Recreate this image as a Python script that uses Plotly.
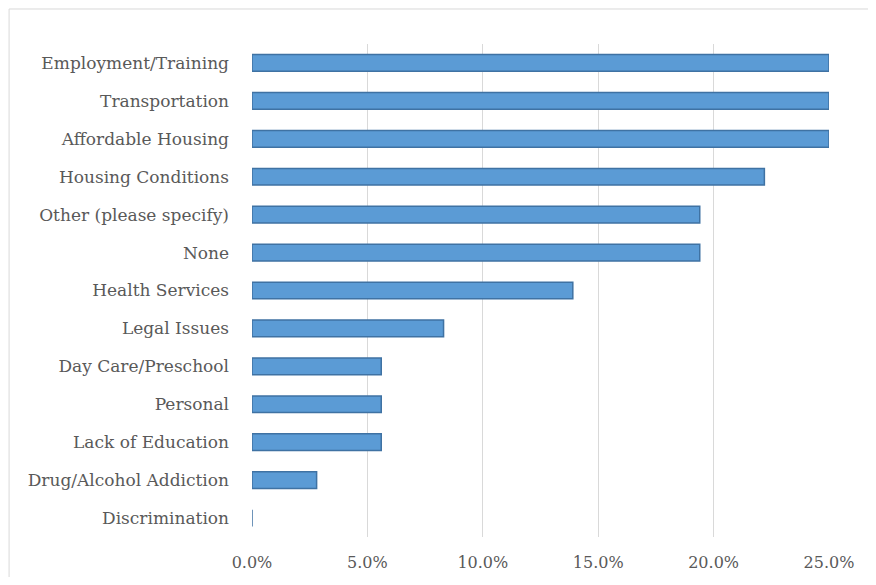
import plotly.graph_objects as go

# categories from top to bottom as shown
categories = [
    "Employment/Training", "Transportation", "Affordable Housing",
    "Housing Conditions", "Other (please specify)", "None",
    "Health Services", "Legal Issues", "Day Care/Preschool",
    "Personal", "Lack of Education", "Drug/Alcohol Addiction",
    "Discrimination",
]
percent = [25.0, 25.0, 25.0, 22.2, 19.4, 19.4, 13.9, 8.3, 5.6, 5.6, 5.6, 2.8, 0.0]

tick_vals = [0, 5, 10, 15, 20, 25]
tick_text = ["0.0%", "5.0%", "10.0%", "15.0%", "20.0%", "25.0%"]

font_name = "DejaVu Serif"
grey = "#595959"

bars = go.Bar(
    x=percent,
    y=categories,
    orientation="h",
    width=0.44,
    marker=dict(color="#5B9BD5", line=dict(color="#3F72A3", width=1.5)),
    hovertemplate="%{y}: %{x:.1f}%<extra></extra>",
)

fig = go.Figure(data=[bars])

# the page body adds an 8px margin all round, so keep the figure inside the window
fig.update_layout(
    width=860,
    height=569,
    margin=dict(l=244, r=39, t=36, b=40),
    paper_bgcolor="white",
    plot_bgcolor="white",
    showlegend=False,
    font=dict(family=font_name, size=17, color=grey),
    xaxis=dict(
        range=[0, 25],
        tickvals=tick_vals,
        ticktext=tick_text,
        showgrid=True,
        gridcolor="#D9D9D9",
        gridwidth=1,
        zeroline=False,
        showline=False,
        ticks="",
        automargin=False,
        ticklabelstandoff=14,
        tickfont=dict(family=font_name, size=16, color=grey),
    ),
    yaxis=dict(
        categoryorder="array",
        categoryarray=categories[::-1],
        showgrid=False,
        zeroline=False,
        showline=False,
        ticks="",
        automargin=False,
        ticklabelstandoff=22,
        tickfont=dict(family=font_name, size=17, color=grey),
    ),
    shapes=[
        # chart frame: only the top and left edges fall inside the picture
        dict(type="line", xref="paper", yref="paper",
             x0=-0.421, x1=1.07, y0=1.071, y1=1.071,
             line=dict(color="#D9D9D9", width=1), layer="below"),
        dict(type="line", xref="paper", yref="paper",
             x0=-0.421, x1=-0.421, y0=-0.09, y1=1.071,
             line=dict(color="#D9D9D9", width=1), layer="below"),
    ],
)

fig.write_html("out.html")
